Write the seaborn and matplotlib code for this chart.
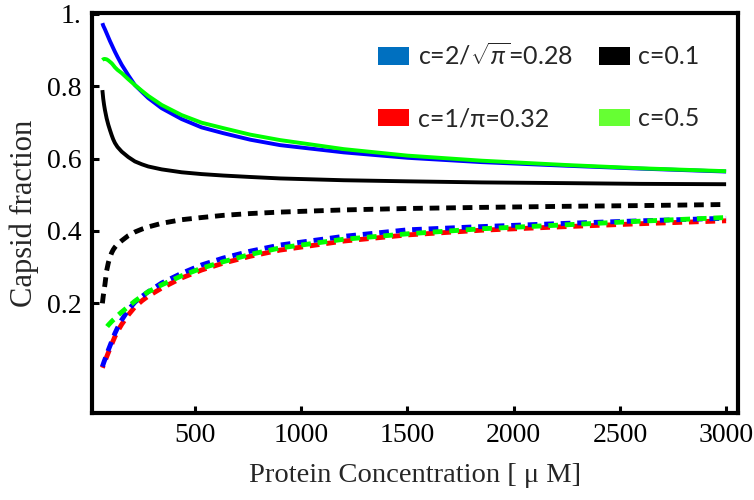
import numpy as np
import pandas as pd
import seaborn as sns
import matplotlib
matplotlib.use("Agg")
import matplotlib.pyplot as plt
from matplotlib.patches import Patch

# ---- data ----
conc = [64, 68, 72, 76, 84, 92, 100, 108, 115, 123, 135, 155, 186, 217, 250, 280, 343, 437,
        531, 633, 760, 900, 1200, 1500, 1850, 2250, 2600, 3000]

blue_solid = [0.974, 0.967, 0.962, 0.957, 0.946, 0.935, 0.924, 0.914, 0.905, 0.895, 0.881,
              0.859, 0.830, 0.803, 0.784, 0.767, 0.739, 0.709, 0.686, 0.670, 0.652,
              0.637, 0.617, 0.602, 0.590, 0.580, 0.572, 0.564]
green_solid = [0.872, 0.874, 0.875, 0.875, 0.874, 0.871, 0.867, 0.863, 0.858, 0.852, 0.845,
               0.836, 0.819, 0.803, 0.787, 0.773, 0.748, 0.720, 0.699, 0.684, 0.666,
               0.651, 0.626, 0.608, 0.594, 0.582, 0.573, 0.565]
black_solid = [0.789, 0.765, 0.748, 0.734, 0.711, 0.693, 0.678, 0.664, 0.653, 0.643, 0.632,
               0.619, 0.604, 0.592, 0.584, 0.578, 0.570, 0.562, 0.557, 0.553, 0.549,
               0.545, 0.540, 0.537, 0.534, 0.532, 0.530, 0.529]

black_dashed = [0.200, 0.220, 0.236, 0.252, 0.290, 0.312, 0.328, 0.340, 0.348, 0.355, 0.363,
                0.373, 0.387, 0.397, 0.405, 0.411, 0.421, 0.431, 0.437, 0.443, 0.448,
                0.452, 0.458, 0.462, 0.465, 0.468, 0.470, 0.473]
blue_dashed = [0.025, 0.032, 0.039, 0.045, 0.058, 0.071, 0.083, 0.095, 0.106, 0.117, 0.132,
               0.154, 0.182, 0.203, 0.219, 0.232, 0.256, 0.283, 0.306, 0.325, 0.344,
               0.361, 0.385, 0.403, 0.412, 0.421, 0.428, 0.435]
red_dashed = [0.022, 0.028, 0.034, 0.040, 0.052, 0.064, 0.076, 0.087, 0.097, 0.108, 0.122,
              0.142, 0.168, 0.190, 0.207, 0.220, 0.242, 0.270, 0.292, 0.311, 0.330,
              0.347, 0.372, 0.389, 0.402, 0.412, 0.420, 0.428]
green_dashed = [0.127, 0.128, 0.130, 0.131, 0.134, 0.140, 0.145, 0.150, 0.154, 0.158, 0.166,
                0.176, 0.191, 0.206, 0.220, 0.232, 0.251, 0.276, 0.297, 0.315, 0.335,
                0.353, 0.377, 0.392, 0.406, 0.417, 0.427, 0.437]

legend_labels = [r"c=2/$\sqrt{\pi}$=0.28", "c=1/π=0.32", "c=0.1", "c=0.5"]
legend_colors = ["#0070c0", "#ff0000", "#000000", "#66ff33"]

xticks = [500, 1000, 1500, 2000, 2500, 3000]
yticks = [0.2, 0.4, 0.6, 0.8, 1.0]
ytick_labels = ["0.2", "0.4", "0.6", "0.8", "1."]

# ---- style ----
sns.set_style("ticks")
plt.rcParams["font.family"] = ["Liberation Serif", "DejaVu Serif"]
plt.rcParams["mathtext.fontset"] = "custom"
plt.rcParams["mathtext.it"] = "Lato:italic"
plt.rcParams["mathtext.rm"] = "Lato"

fig = plt.figure(figsize=(7.54, 5.00), dpi=100)
ax = fig.add_axes([91.7 / 754, 1 - 413 / 500, (738 - 91.7) / 754, (413 - 13) / 500])

LW_S = 2.8
LW_D = 3.5
dash = (2.0, 1.4)

def draw(y, color, lw, ls="-", z=2):
    sns.lineplot(x=conc, y=y, color=color, lw=lw, ax=ax, linestyle=ls, zorder=z,
                 sort=False, estimator=None, solid_capstyle="butt", dash_capstyle="butt",
                 solid_joinstyle="round")

draw(blue_solid, "#0000ff", LW_S, z=2)
draw(green_solid, "#00ff00", LW_S, z=3)
draw(black_solid, "#000000", LW_S, z=3)
draw(black_dashed, "#000000", LW_D, ls=(0, dash), z=3)
draw(red_dashed, "#ff0000", LW_D, ls=(1.5, dash), z=3)
draw(blue_dashed, "#0000ff", LW_D, ls=(0, dash), z=4)
draw(green_dashed, "#00ff00", LW_D, ls=(2.2, dash), z=5)

ax.set_xlim(13.7, 3056)
ax.set_ylim(-0.103, 1.002)
ax.set_xticks(xticks)
ax.set_xticklabels([str(t) for t in xticks])
ax.set_yticks(yticks)
ax.set_yticklabels(ytick_labels)

for s in ax.spines.values():
    s.set_visible(True)
    s.set_linewidth(3.0)
    s.set_color("black")
ax.tick_params(direction="in", length=5, width=2.2, labelsize=20, pad=7, colors="black")

ax.set_xlabel("Protein Concentration [ μ M]", fontsize=20.5, labelpad=11)
ax.set_ylabel("Capsid fraction", fontsize=22, labelpad=6)

handles = [Patch(facecolor=c, edgecolor="none") for c in legend_colors]
leg = ax.legend(handles, legend_labels, ncol=2, frameon=False,
                loc="upper left", bbox_to_anchor=(378 / 754, 1 - 42 / 500),
                bbox_transform=fig.transFigure,
                prop={"family": "Lato", "size": 18},
                handlelength=1.24, handleheight=0.72, handletextpad=0.35,
                labelspacing=1.55, columnspacing=1.04, borderpad=0, borderaxespad=0)

fig.savefig("out.png", dpi=100)
